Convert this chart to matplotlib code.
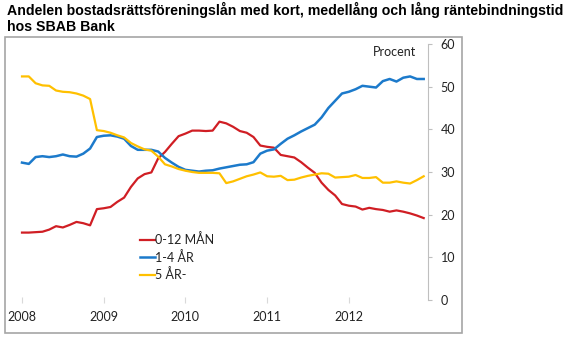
import matplotlib.pyplot as plt
import numpy as np
from matplotlib.patches import Rectangle

# monthly shares, Jan 2008 - Dec 2012 (percent)
red_0_12 = [15.8, 15.8, 15.9, 16.0, 16.5, 17.3, 17.0, 17.6, 18.3, 18.0, 17.5, 21.3,
            21.5, 21.8, 23.0, 24.0, 26.5, 28.5, 29.5, 29.9, 33.2, 34.7, 36.6, 38.4,
            39.0, 39.7, 39.7, 39.6, 39.7, 41.8, 41.4, 40.6, 39.6, 39.2, 38.2, 36.2,
            35.9, 35.7, 34.0, 33.7, 33.4, 32.3, 31.0, 29.8, 27.5, 25.8, 24.5, 22.5,
            22.1, 21.9, 21.2, 21.6, 21.3, 21.1, 20.7, 21.0, 20.7, 20.3, 19.8, 19.2]
blue_1_4 = [32.2, 31.9, 33.5, 33.7, 33.5, 33.7, 34.1, 33.7, 33.6, 34.3, 35.5, 38.2,
            38.5, 38.6, 38.3, 37.8, 36.1, 35.2, 35.2, 35.2, 34.8, 33.3, 32.2, 31.2,
            30.5, 30.3, 30.1, 30.3, 30.4, 30.8, 31.1, 31.4, 31.7, 31.8, 32.3, 34.3,
            35.0, 35.3, 36.6, 37.8, 38.6, 39.5, 40.3, 41.1, 42.8, 45.0, 46.7, 48.4,
            48.8, 49.4, 50.2, 50.0, 49.8, 51.3, 51.8, 51.2, 52.1, 52.4, 51.8, 51.8]
yellow_5 = [52.4, 52.4, 50.8, 50.3, 50.2, 49.1, 48.8, 48.7, 48.4, 47.9, 47.1, 39.8,
            39.6, 39.2, 38.6, 38.1, 36.8, 36.0, 35.3, 35.0, 33.6, 31.8, 31.3, 30.7,
            30.3, 30.0, 29.8, 29.8, 29.8, 29.7, 27.4, 27.8, 28.4, 29.0, 29.4, 29.9,
            29.0, 28.9, 29.1, 28.1, 28.2, 28.7, 29.1, 29.4, 29.7, 29.6, 28.7, 28.8,
            28.9, 29.3, 28.6, 28.6, 28.8, 27.5, 27.5, 27.8, 27.5, 27.3, 28.1, 29.0]
years = [2008, 2009, 2010, 2011, 2012]
labels = ['0-12 MÅN', '1-4 ÅR', '5 ÅR-']

t = 2008 + np.arange(len(red_0_12)) / 12

fig = plt.figure(figsize=(5.8, 3.41), dpi=100)
ax = fig.add_axes([15/580, 1 - 300/341, 413/580, 256/341])

ax.plot(t, red_0_12, color='#D01E24', lw=1.6, label=labels[0])
ax.plot(t, blue_1_4, color='#1C7ACB', lw=1.8, label=labels[1])
ax.plot(t, yellow_5, color='#FFC000', lw=1.6, label=labels[2])

ax.set_xlim(2008 - 7/81.7, 2008 + 406/81.7)
ax.set_ylim(0, 60)
ax.set_xticks(years)
ax.set_xticklabels([str(y) for y in years])
ax.set_yticks(range(0, 61, 10))

ax.yaxis.tick_right()
for s in ['left', 'top', 'bottom']:
    ax.spines[s].set_visible(False)
ax.spines['right'].set_color('#BFBFBF')
ax.tick_params(axis='y', direction='out', length=3, color='#BFBFBF', pad=6,
               labelsize=9, labelcolor='#222222')
ax.tick_params(axis='x', direction='inout', length=4, color='#D9D9D9', pad=6,
               labelsize=9, labelcolor='#222222')
for lab in ax.get_xticklabels() + ax.get_yticklabels():
    lab.set_family('Lato')

ax.text(416/580, 1 - 52/341, 'Procent', transform=fig.transFigure,
        ha='right', va='center', fontsize=9, family='Lato', color='#222222')

leg = ax.legend(loc='upper left', bbox_to_anchor=(0.29, 0.28), frameon=False,
                handlelength=1.2, handletextpad=0.05, labelspacing=0.35,
                borderaxespad=0, prop={'family': 'Lato', 'size': 9})
for txt in leg.get_texts():
    txt.set_color('#222222')

fig.patches.append(Rectangle((5/580, 1 - 333/341), 457/580, 296/341,
                             transform=fig.transFigure, fill=False,
                             edgecolor='#A6A6A6', lw=1.2))

fig.text(7/580, 1 - 10/341, 'Andelen bostadsrättsföreningslån med kort, medellång och lång räntebindningstid',
         ha='left', va='center', fontsize=10.2, fontweight='bold', family='Liberation Sans')
fig.text(7/580, 1 - 27/341, 'hos SBAB Bank',
         ha='left', va='center', fontsize=10.2, fontweight='bold', family='Liberation Sans')

fig.savefig('out.png', dpi=100)
